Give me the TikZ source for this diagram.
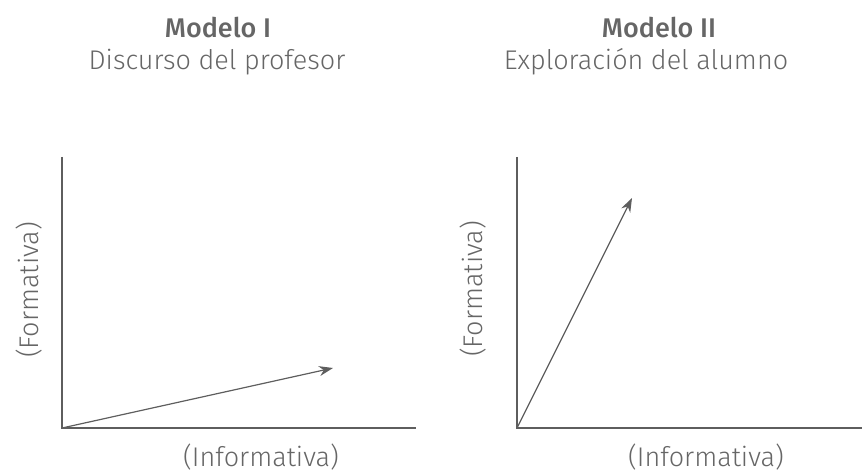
\documentclass[tikz,border=0pt]{standalone}
\usepackage{fontspec}
\setmainfont{Fira Sans Light}[BoldFont=Fira Sans Medium]
\usetikzlibrary{arrows.meta}
\definecolor{ink}{HTML}{5E5E5E}
\definecolor{txt}{HTML}{666666}
\begin{document}
\begin{tikzpicture}[x=1pt,y=-1pt,
  axis/.style={draw=ink,line width=1.4pt},
  vec/.style={draw=ink,line width=1.2pt,-{Stealth[length=14pt,width=10pt]}},
  lbl/.style={text=txt,font=\fontsize{27}{31}\selectfont,inner sep=0pt},
  ttl/.style={text=txt,font=\fontsize{27}{31}\selectfont\bfseries,inner sep=0pt}]
\useasboundingbox (0,0) rectangle (862,476);
% Modelo I
\node[ttl] (t1) at (218,28) {Modelo I};
\node[lbl] (s1) at (217,62) {Discurso del profesor};
\coordinate (o1) at (62,428);
\coordinate (y1) at (62,157);
\coordinate (x1) at (416,428);
\coordinate (a1) at (333,368);
\draw[axis] (y1) -- (o1) -- (x1);
\draw[vec] (o1) -- (a1);
\node[lbl,rotate=90] (f1) at (29,290) {(Formativa)};
\node[lbl] (i1) at (261,457) {(Informativa)};
% Modelo II
\node[ttl] (t2) at (659,28) {Modelo II};
\node[lbl] (s2) at (646,62) {Exploración del alumno};
\coordinate (o2) at (517,428);
\coordinate (y2) at (517,157);
\coordinate (x2) at (862,428);
\coordinate (a2) at (632,198);
\draw[axis] (y2) -- (o2) -- (x2);
\draw[vec] (o2) -- (a2);
\node[lbl,rotate=90] (f2) at (473,289) {(Formativa)};
\node[lbl] (i2) at (706,457) {(Informativa)};
\end{tikzpicture}
\end{document}
